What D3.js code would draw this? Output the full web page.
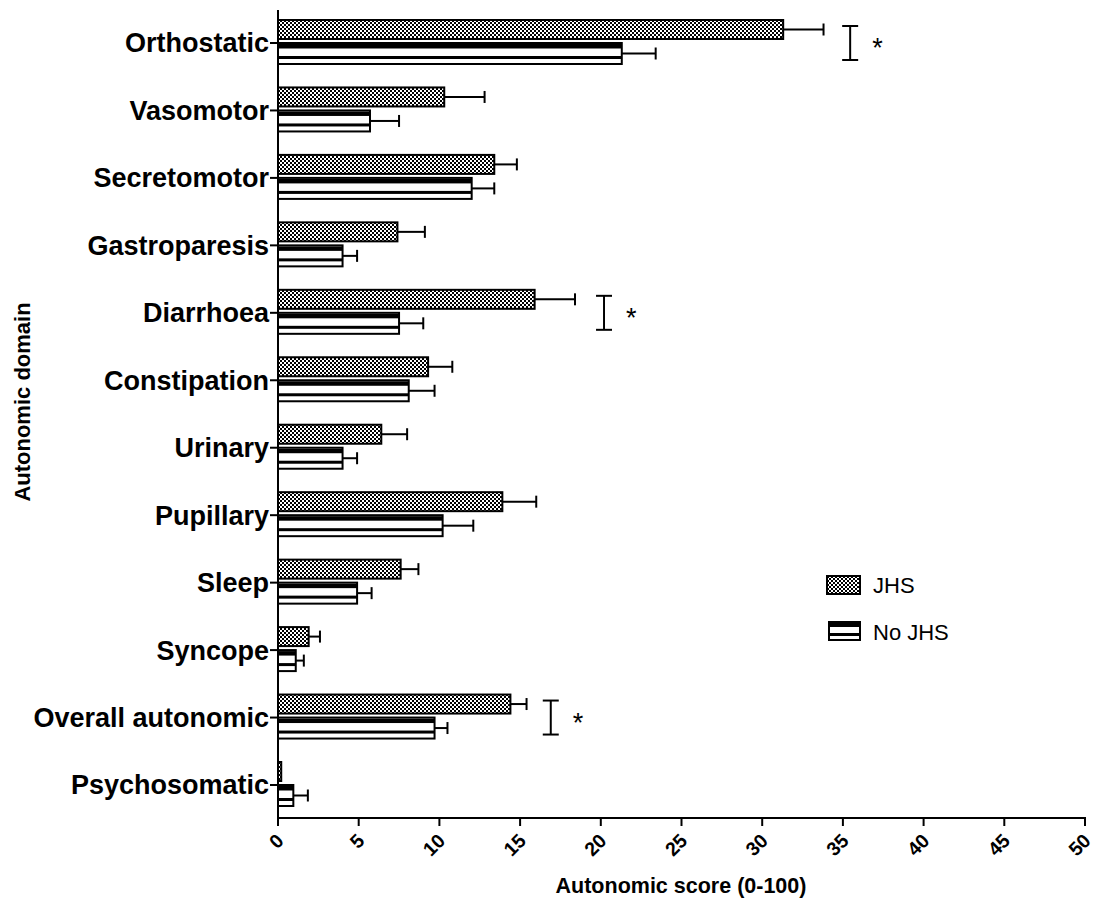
<!DOCTYPE html>
<html>
<head>
<script src="https://cdn.jsdelivr.net/npm/d3@7"></script>
<style>
body { margin: 0; background: #fff; }
text { font-family: "Liberation Sans", Arial, sans-serif; fill: #000; }
.cat text { font-weight: bold; font-size: 27px; }
.xax text { font-weight: bold; font-size: 19.5px; }
</style>
</head>
<body>
<script>
// values
var domains = ["Orthostatic", "Vasomotor", "Secretomotor", "Gastroparesis", "Diarrhoea",
  "Constipation", "Urinary", "Pupillary", "Sleep", "Syncope", "Overall autonomic", "Psychosomatic"];
var jhsMean = [31.3, 10.3, 13.4, 7.4, 15.9, 9.3, 6.4, 13.9, 7.6, 1.9, 14.4, 0.2];
var jhsErr  = [2.5, 2.5, 1.4, 1.7, 2.5, 1.5, 1.6, 2.1, 1.1, 0.7, 1.0, 0];
var noMean  = [21.3, 5.7, 12.0, 4.0, 7.5, 8.1, 4.0, 10.2, 4.9, 1.1, 9.7, 0.95];
var noErr   = [2.1, 1.8, 1.4, 0.9, 1.5, 1.6, 0.9, 1.9, 0.9, 0.5, 0.8, 0.9];
var xTicks  = [0, 5, 10, 15, 20, 25, 30, 35, 40, 45, 50];
// significance markers: domain, x position of bracket
var sigDomains = ["Orthostatic", "Diarrhoea", "Overall autonomic"];
var sigX = [35.45, 20.2, 16.9];

var width = 1101, height = 899;
var svg = d3.select("body").append("svg").attr("width", width).attr("height", height);

var defs = svg.append("defs");
var chk = defs.append("pattern").attr("id", "chk").attr("patternUnits", "userSpaceOnUse")
  .attr("width", 4).attr("height", 4);
chk.append("rect").attr("width", 4).attr("height", 4).attr("fill", "#fff");
chk.append("rect").attr("width", 2).attr("height", 2).attr("fill", "#000");
chk.append("rect").attr("x", 2).attr("y", 2).attr("width", 2).attr("height", 2).attr("fill", "#000");

var x = d3.scaleLinear().domain([0, 50]).range([278, 1085]);
var y = d3.scalePoint().domain(domains).range([43, 785]);

var rows = domains.map(function(d, i) {
  return {name: d, jm: jhsMean[i], je: jhsErr[i], nm: noMean[i], ne: noErr[i]};
});

var g = svg.append("g");

// JHS bars
g.selectAll(".jhs").data(rows).enter().append("rect")
  .attr("class", "jhs")
  .attr("x", x(0)).attr("y", function(d) { return y(d.name) - 23; })
  .attr("width", function(d) { return x(d.jm) - x(0); }).attr("height", 19)
  .attr("fill", "url(#chk)").attr("stroke", "#000").attr("stroke-width", 2);

// No JHS bars with stripes
var nb = g.selectAll(".nojhs").data(rows).enter().append("g").attr("class", "nojhs");
nb.append("rect")
  .attr("x", x(0)).attr("y", function(d) { return y(d.name); })
  .attr("width", function(d) { return x(d.nm) - x(0); }).attr("height", 21)
  .attr("fill", "#fff").attr("stroke", "#000").attr("stroke-width", 2);
nb.append("rect")
  .attr("x", x(0)).attr("y", function(d) { return y(d.name) + 1; })
  .attr("width", function(d) { return x(d.nm) - x(0); }).attr("height", 4.5)
  .attr("fill", "#000");
nb.append("rect")
  .attr("x", x(0)).attr("y", function(d) { return y(d.name) + 13; })
  .attr("width", function(d) { return x(d.nm) - x(0); }).attr("height", 3)
  .attr("fill", "#000");

// error bars (positive side only)
function errBars(cls, mean, err, off) {
  var eg = g.selectAll("." + cls).data(rows.filter(function(d) { return d[err] > 0; }))
    .enter().append("g").attr("class", cls).attr("stroke", "#000").attr("stroke-width", 2);
  eg.append("line")
    .attr("x1", function(d) { return x(d[mean]); }).attr("x2", function(d) { return x(d[mean] + d[err]); })
    .attr("y1", function(d) { return y(d.name) + off; }).attr("y2", function(d) { return y(d.name) + off; });
  eg.append("line")
    .attr("x1", function(d) { return x(d[mean] + d[err]); }).attr("x2", function(d) { return x(d[mean] + d[err]); })
    .attr("y1", function(d) { return y(d.name) + off - 6; }).attr("y2", function(d) { return y(d.name) + off + 6; });
}
errBars("ej", "jm", "je", -13.5);
errBars("en", "nm", "ne", 10.5);

// axes
var yAx = svg.append("g").attr("class", "cat").attr("transform", "translate(" + x(0) + ",0)");
yAx.append("line").attr("x1", 0).attr("x2", 0).attr("y1", 10).attr("y2", 819)
  .attr("stroke", "#000").attr("stroke-width", 2);
var yt = yAx.selectAll(".t").data(domains).enter().append("g")
  .attr("transform", function(d) { return "translate(0," + y(d) + ")"; });
yt.append("line").attr("x1", -8).attr("x2", 0).attr("stroke", "#000").attr("stroke-width", 2);
yt.append("text").attr("x", -9).attr("dy", "0.35em").attr("text-anchor", "end").text(function(d) { return d; });

var xAx = svg.append("g").attr("class", "xax").attr("transform", "translate(0,818)");
xAx.append("line").attr("x1", x(0) - 1).attr("x2", x(50) + 1).attr("stroke", "#000").attr("stroke-width", 2);
var xt = xAx.selectAll(".t").data(xTicks).enter().append("g")
  .attr("transform", function(d) { return "translate(" + x(d) + ",0)"; });
xt.append("line").attr("y1", 0).attr("y2", 8).attr("stroke", "#000").attr("stroke-width", 2);
xt.append("text").attr("text-anchor", "end")
  .attr("transform", "translate(7,24) rotate(-45)").text(function(d) { return d; });

svg.append("text").attr("x", 681).attr("y", 893).attr("text-anchor", "middle")
  .style("font-weight", "bold").style("font-size", "21.5px").text("Autonomic score (0-100)");
svg.append("text").attr("transform", "translate(30,402) rotate(-90)").attr("text-anchor", "middle")
  .style("font-weight", "bold").style("font-size", "22px").text("Autonomic domain");

// significance brackets
var sg = svg.selectAll(".sig").data(sigDomains).enter().append("g").attr("class", "sig")
  .attr("transform", function(d, i) { return "translate(" + x(sigX[i]) + "," + y(d) + ")"; });
sg.append("line").attr("y1", -17).attr("y2", 17).attr("stroke", "#000").attr("stroke-width", 2);
sg.append("line").attr("x1", -8).attr("x2", 8).attr("y1", -17).attr("y2", -17).attr("stroke", "#000").attr("stroke-width", 2);
sg.append("line").attr("x1", -8).attr("x2", 8).attr("y1", 17).attr("y2", 17).attr("stroke", "#000").attr("stroke-width", 2);
sg.append("text").attr("x", 22).attr("y", 14).style("font-size", "27px").text("*");

// legend
var leg = svg.append("g").attr("transform", "translate(827,576)");
leg.append("rect").attr("width", 33).attr("height", 18).attr("fill", "url(#chk)")
  .attr("stroke", "#000").attr("stroke-width", 2);
leg.append("text").attr("x", 46).attr("y", 17).style("font-size", "22px").text("JHS");
var l2 = leg.append("g").attr("transform", "translate(2,46)");
l2.append("rect").attr("width", 31).attr("height", 18).attr("fill", "#fff")
  .attr("stroke", "#000").attr("stroke-width", 2);
l2.append("rect").attr("y", 1).attr("width", 31).attr("height", 4).attr("fill", "#000");
l2.append("rect").attr("y", 11).attr("width", 31).attr("height", 3).attr("fill", "#000");
leg.append("text").attr("x", 46).attr("y", 64).style("font-size", "22px").text("No JHS");
</script>
</body>
</html>
